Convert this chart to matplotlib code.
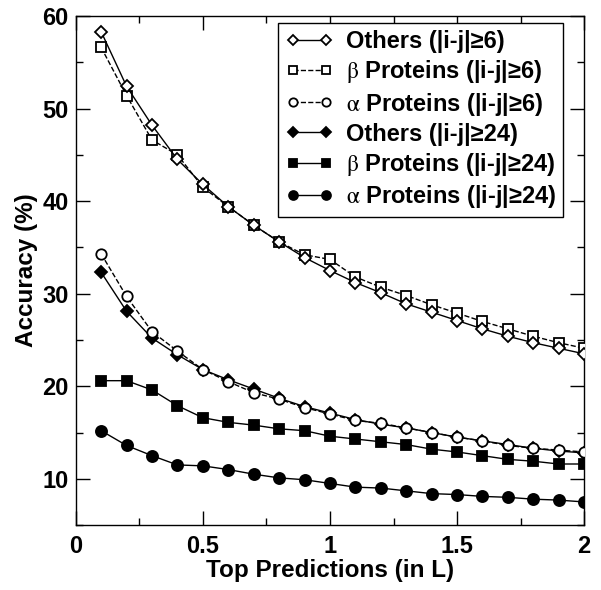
import matplotlib
matplotlib.use("Agg")
import matplotlib.pyplot as plt
from matplotlib.ticker import MultipleLocator

plt.rcParams['font.family'] = ['Liberation Sans', 'DejaVu Sans']
plt.rcParams['mathtext.fontset'] = 'stix'

top_l = [0.1, 0.2, 0.3, 0.4, 0.5, 0.6, 0.7, 0.8, 0.9, 1.0,
         1.1, 1.2, 1.3, 1.4, 1.5, 1.6, 1.7, 1.8, 1.9, 2.0]

others_6 = [58.3, 52.4, 48.2, 44.5, 41.8, 39.4, 37.4, 35.6, 33.9, 32.5,
            31.2, 30.1, 28.9, 28.0, 27.1, 26.2, 25.4, 24.7, 24.1, 23.5]
beta_6 = [56.6, 51.4, 46.6, 45.0, 41.5, 39.4, 37.4, 35.6, 34.2, 33.7,
          31.8, 30.7, 29.8, 28.8, 27.9, 27.0, 26.2, 25.4, 24.7, 24.1]
alpha_6 = [34.3, 29.7, 25.9, 23.8, 21.8, 20.5, 19.3, 18.6, 17.7, 17.0,
           16.3, 16.0, 15.5, 15.0, 14.5, 14.1, 13.6, 13.3, 13.1, 12.9]
others_24 = [32.3, 28.1, 25.2, 23.4, 21.8, 20.7, 19.7, 18.7, 17.8, 17.1,
             16.4, 15.9, 15.5, 15.0, 14.5, 14.1, 13.7, 13.3, 13.0, 12.8]
beta_24 = [20.6, 20.6, 19.6, 17.9, 16.6, 16.1, 15.8, 15.4, 15.2, 14.6,
           14.3, 14.0, 13.7, 13.2, 12.9, 12.5, 12.1, 11.9, 11.6, 11.6]
alpha_24 = [15.2, 13.6, 12.5, 11.5, 11.4, 11.0, 10.5, 10.1, 9.9, 9.5,
            9.1, 9.0, 8.7, 8.4, 8.3, 8.1, 8.0, 7.8, 7.7, 7.5]

fig = plt.figure(figsize=(6.01, 5.90), dpi=100)
ax = fig.add_axes([0.126, 0.110, 0.846, 0.863])

beta = r'$\mathrm{\beta}$'
alpha = r'$\mathrm{\alpha}$'
# (values, marker, face, linestyle, label, markersize, zorder)
series = [
    (others_6, 'D', 'white', '-', 'Others (|i-j|\u22656)', 6.5, 6),
    (beta_6, 's', 'white', '--', beta + ' Proteins (|i-j|\u22656)', 6.5, 5),
    (alpha_6, 'o', 'white', '--', alpha + ' Proteins (|i-j|\u22656)', 7.5, 4),
    (others_24, 'D', 'black', '-', 'Others (|i-j|\u226524)', 6.5, 3),
    (beta_24, 's', 'black', '-', beta + ' Proteins (|i-j|\u226524)', 7.5, 3),
    (alpha_24, 'o', 'black', '-', alpha + ' Proteins (|i-j|\u226524)', 8, 3),
]
for vals, mk, fc, ls, lab, ms, z in series:
    ax.plot(top_l, vals, linestyle=ls, color='black', linewidth=1,
            marker=mk, markerfacecolor=fc, markeredgecolor='black',
            markeredgewidth=1.3, markersize=ms, label=lab, zorder=z)

ax.set_xlim(0, 2)
ax.set_ylim(5, 60)
ax.xaxis.set_major_locator(MultipleLocator(0.5))
ax.xaxis.set_minor_locator(MultipleLocator(0.25))
ax.yaxis.set_major_locator(MultipleLocator(10))
ax.yaxis.set_minor_locator(MultipleLocator(5))
ax.set_xticks([0, 0.5, 1, 1.5, 2])
ax.set_xticklabels(['0', '0.5', '1', '1.5', '2'])
ax.tick_params(which='both', direction='in', top=True, right=True, width=1)
ax.tick_params(which='major', length=10, labelsize=17)
ax.tick_params(axis='x', which='major', pad=7)
ax.tick_params(axis='y', which='major', pad=5)
ax.tick_params(which='minor', length=5)
for lbl in ax.get_xticklabels() + ax.get_yticklabels():
    lbl.set_fontweight('bold')
for sp in ax.spines.values():
    sp.set_linewidth(1)

ax.set_xlabel('Top Predictions (in L)', fontsize=17.5, fontweight='bold', labelpad=1)
ax.set_ylabel('Accuracy (%)', fontsize=17.5, fontweight='bold', labelpad=3)

leg = ax.legend(loc='upper right', bbox_to_anchor=(0.959, 0.986), borderaxespad=0,
                numpoints=2, markerscale=0.8, handlelength=2.0, handletextpad=0.55,
                labelspacing=0.22, borderpad=0.3, fancybox=False,
                edgecolor='black', framealpha=1,
                prop={'weight': 'bold', 'size': 17})
leg.get_frame().set_linewidth(1)

fig.savefig('out.png', dpi=100)
